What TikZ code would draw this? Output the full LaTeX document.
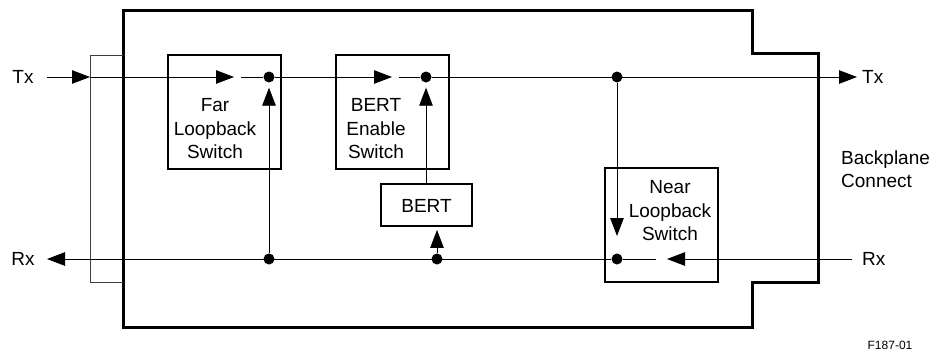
\documentclass[tikz,border=0pt]{standalone}
\usepackage{fontspec}
\setmainfont{Liberation Sans}
\usetikzlibrary{arrows.meta}
\begin{document}
\begin{tikzpicture}[x=1pt,y=-1pt,
 sig/.style={line width=0.9pt, -{Triangle[length=18pt,width=13.5pt]}},
 wire/.style={line width=0.9pt},
 dot/.style={circle, fill, inner sep=0pt, minimum size=11pt},
 boxn/.style={draw, line width=1.8pt, inner sep=0pt},
 lbl/.style={font=\fontsize{19}{23.5}\selectfont, align=center, inner sep=0pt},
 frame/.style={line width=3pt},
 bracket/.style={line width=0.8pt, black!75},
]
\useasboundingbox (0,0) rectangle (942,362);
% outer frame
\draw[frame] (123,10) -- (752,10) -- (752,53) -- (818,53) -- (818,282) -- (752,282) -- (752,327) -- (123,327) -- cycle;
% bracket
\draw[bracket] (123,55) -- (90,55) -- (90,282) -- (123,282);
% boxes
\node[boxn, minimum width=113pt, minimum height=114pt] (far) at (224.5,112) {};
\node[boxn, minimum width=113pt, minimum height=114pt] (ben) at (392.5,112) {};
\node[boxn, minimum width=91pt, minimum height=42pt] (bert) at (426.5,205) {};
\node[boxn, minimum width=113pt, minimum height=114pt] (near) at (661.5,225) {};
% box texts
\node[lbl] (fartxt) at (215,129) {Far\\Loopback\\Switch};
\node[lbl] (bentxt) at (376,129) {BERT\\Enable\\Switch};
\node[lbl] (berttxt) at (426.5,206) {BERT};
\node[lbl] (neartxt) at (670,211) {Near\\Loopback\\Switch};
% coordinates
\coordinate (txin) at (47,77);
\coordinate (txarr) at (90,77);
\coordinate (farA) at (234,77);
\coordinate (farB) at (241,77);
\coordinate (bertA) at (392,77);
\coordinate (bertB) at (399,77);
\coordinate (txout) at (857,77);
\coordinate (rxin) at (852,259);
\coordinate (nearA) at (667,259);
\coordinate (nearB) at (656,259);
\coordinate (rxout) at (47,259);
\coordinate (nearD) at (617,236);
% dots
\node[dot] (farT) at (269,77) {};
\node[dot] (benT) at (426,77) {};
\node[dot] (nearT) at (617,77) {};
\node[dot] (farR) at (269,259) {};
\node[dot] (bertR) at (437,259) {};
\node[dot] (nearR) at (617,259) {};
% Tx path
\draw[sig] (txin) -- (txarr);
\draw[sig] (txarr) -- (farA);
\draw[wire] (farB) -- (farT);
\draw[sig] (farT) -- (bertA);
\draw[wire] (bertB) -- (benT);
\draw[sig] (benT) -- (txout);
% Rx path
\draw[sig] (rxin) -- (nearA);
\draw[wire] (nearB) -- (nearR);
\draw[sig] (nearR) -- (rxout);
% verticals
\draw[sig, shorten >=5pt] (farR) -- (farT);
\draw[sig, shorten >=5pt] (bert.north -| benT) -- (benT);
\draw[sig, shorten >=3pt] (bertR) -- (bertR |- bert.south);
\draw[sig] (nearT) -- (nearD);
% labels
\node[lbl] (txl) at (23,77) {Tx};
\node[lbl] (rxl) at (23,259) {Rx};
\node[lbl, anchor=west] (txr) at (862,77) {Tx};
\node[lbl, anchor=west] (rxr) at (862,259) {Rx};
\node[lbl, align=left, anchor=west] (bp) at (841,169) {Backplane\\Connect};
\node[inner sep=0pt, font=\fontsize{12}{14}\selectfont] (fig) at (890,345) {F187-01};
\end{tikzpicture}
\end{document}
